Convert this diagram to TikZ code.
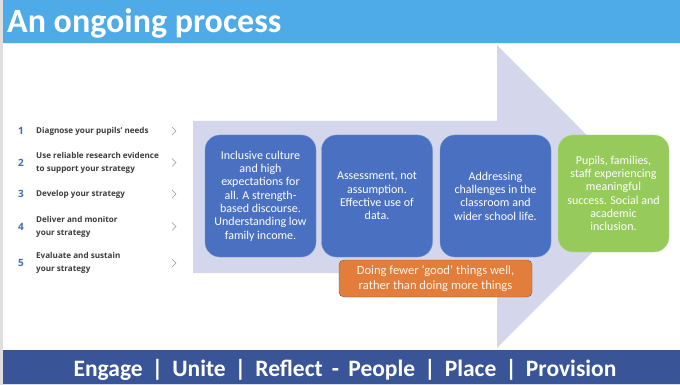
\documentclass[tikz,border=0pt]{standalone}
\usepackage{fontspec}
\setmainfont{Carlito}
\newfontfamily\listfont{Open Sans}

\definecolor{headerblue}{HTML}{4FABE8}
\definecolor{footerblue}{HTML}{3A5597}
\definecolor{arrowgray}{HTML}{D4D7EB}
\definecolor{boxblue}{HTML}{4A70C1}
\definecolor{boxgreen}{HTML}{96CB5B}
\definecolor{boxorange}{HTML}{E27D3C}
\definecolor{numblue}{HTML}{3F6DB5}
\definecolor{listgray}{HTML}{3C3C3C}

\tikzset{
  bluebox/.style={draw=boxblue!75!white, fill=boxblue, rounded corners=15pt,
    minimum width=111pt, minimum height=122pt, align=center, text=white,
    font=\fontsize{12}{13.3}\selectfont, inner sep=1pt},
  greenbox/.style={bluebox, draw=boxgreen!70!white, fill=boxgreen,
    minimum height=117pt},
  orangebox/.style={draw=boxorange!55!black!70!gray, fill=boxorange, rounded corners=5pt,
    minimum width=193pt, minimum height=37pt, align=center, text=white!92!orange,
    font=\fontsize{12.6}{14.5}\selectfont, inner sep=1pt},
  stepnum/.style={text=numblue, font=\listfont\bfseries\fontsize{10}{11}\selectfont},
  steptext/.style={anchor=west, align=left, text=listgray, inner sep=0pt,
    font=\listfont\bfseries\fontsize{8.1}{13}\selectfont},
  chevron/.style={draw=gray!80, line width=0.7pt}
}

\begin{document}
\begin{tikzpicture}[x=1pt,y=-1pt]
\useasboundingbox (0,0) rectangle (680,385);

% -------------------------------------------------
% Slide background and bars
% -------------------------------------------------
\fill[white] (0,0) rectangle (680,385);
\fill[gray!25] (0,0) rectangle (3,385);
\fill[headerblue] (3,0) rectangle (680,43);
\draw[white!85!headerblue, line width=1pt] (3,43.5) -- (680,43.5);
\fill[footerblue] (3,350) rectangle (680,384);
\draw[white!80!footerblue, line width=1pt] (3,384.5) -- (680,384.5);

% -------------------------------------------------
% Title and motto
% -------------------------------------------------
\node[anchor=base west, text=white, font=\bfseries\fontsize{34}{38}\selectfont,
  inner sep=0pt] (title) at (7,33) {An ongoing process};
\node[anchor=base, text=white, font=\bfseries\fontsize{23.5}{26}\selectfont,
  inner sep=0pt] (motto) at (345,376)
  {Engage \,|\, Unite \,|\, Reflect \,-\, People \,|\, Place \,|\, Provision};

% -------------------------------------------------
% Big arrow
% -------------------------------------------------
\fill[arrowgray] (193,121) -- (497,121) -- (497,45) -- (648,196.5)
  -- (497,348) -- (497,273) -- (193,273) -- cycle;

% -------------------------------------------------
% Boxes
% -------------------------------------------------
\node[bluebox] (culture) at (260.5,196) {Inclusive culture\\and high\\expectations for\\all. A strength-\\based discourse.\\Understanding low\\family income.};
\node[bluebox] (assess) at (377,196) {Assessment, not\\assumption.\\Effective use of\\data.};
\node[bluebox] (challenge) at (495.5,196) {Addressing\\challenges in the\\classroom and\\wider school life.};
\node[greenbox] (success) at (613.5,193.5) {Pupils, families,\\staff experiencing\\meaningful\\success. Social and\\academic\\inclusion.};
\node[orangebox] (fewer) at (435.5,278.5) {Doing fewer ‘good’ things well,\\rather than doing more things};

% -------------------------------------------------
% Steps list
% -------------------------------------------------
\foreach \n/\y/\txt in {1/131/{Diagnose your pupils’ needs},
    2/162.5/{Use reliable research evidence\\to support your strategy},
    3/194/{Develop your strategy},
    4/226.5/{Deliver and monitor\\your strategy},
    5/263/{Evaluate and sustain\\your strategy}}{
  \node[stepnum] (num\n) at (21,\y) {\n};
  \node[steptext] (step\n) at (36,\y) {\txt};
  \coordinate (chev\n) at (174,\y);
  \draw[chevron] (chev\n) ++(-2,-4) -- ++(4,4) -- ++(-4,4);
}

\end{tikzpicture}
\end{document}
